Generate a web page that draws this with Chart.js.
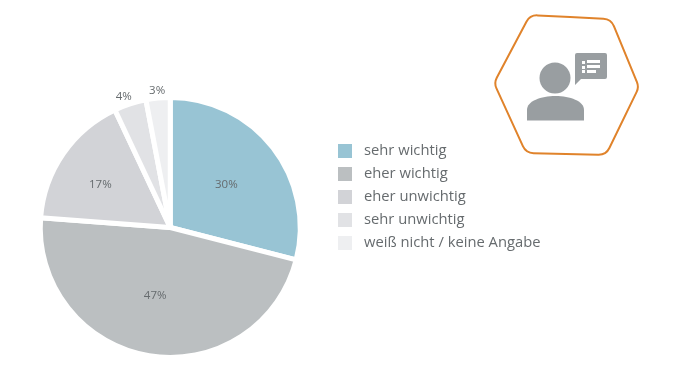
<!DOCTYPE html>
<html lang="de">

<head>
    <meta charset="UTF-8">
    <title>Pie Chart</title>
    <style>
        html, body { margin: 0; padding: 0; background: #fff; }
        #wrap { position: relative; width: 674px; height: 384px; overflow: hidden; }
        #ctx { position: absolute; left: 0; top: 0; }
        #legend { position: absolute; left: 338px; top: 138px; margin: 0; padding: 0; list-style: none;
            font: 14.75px "Open Sans", sans-serif; color: #666b6e; }
        #legend li { height: 23px; line-height: 23px; white-space: nowrap; }
        #legend span { display: inline-block; width: 14px; height: 14px; margin-right: 12px; vertical-align: -3px; }
    </style>
</head>

<body>
    <div id="wrap">
        <canvas id="ctx" width="674" height="384"></canvas>
        <ul id="legend"></ul>
    </div>

    <script src="https://cdn.jsdelivr.net/npm/chart.js"></script>
    <script>
        const categories = ['sehr wichtig', 'eher wichtig', 'eher unwichtig', 'sehr unwichtig', 'weiß nicht / keine Angabe'];
        // slice sizes, the printed labels round differently
        const values = [29, 47.2, 16.8, 4, 3];
        const percentLabels = ['30%', '47%', '17%', '4%', '3%'];
        const colors = ['#98c4d4', '#bbbfc1', '#d2d3d7', '#e1e2e5', '#eeeff1'];
        // distance of each label from the centre, as a share of the radius
        const labelRadius = [0.56, 0.53, 0.63, 1.09, 1.08];
        // small pixel nudges for the labels
        const labelNudge = [[-1, 1], [-4, 1], [-3, 3], [-3, 3], [0, 2]];

        // html legend, the native one can't be placed freely
        document.getElementById('legend').innerHTML = categories.map((c, i) =>
            '<li><span style="background:' + colors[i] + '"></span>' + c + '</li>').join('');

        // percent labels, small slices get theirs outside the pie
        const sliceLabels = {
            id: 'sliceLabels',
            afterDatasetsDraw(chart) {
                const c = chart.ctx;
                c.save();
                c.font = '11.5px "Open Sans", sans-serif';
                c.fillStyle = '#666b6e';
                c.textAlign = 'center';
                c.textBaseline = 'middle';
                chart.getDatasetMeta(0).data.forEach((arc, i) => {
                    const p = arc.getProps(['x', 'y', 'startAngle', 'endAngle', 'outerRadius']);
                    const mid = (p.startAngle + p.endAngle) / 2;
                    const r = 129 * labelRadius[i];
                    c.fillText(percentLabels[i], p.x + Math.cos(mid) * r + labelNudge[i][0], p.y + Math.sin(mid) * r + labelNudge[i][1]);
                });
                c.restore();
            }
        };

        // hexagon with the person icon, top right
        const hexIcon = {
            id: 'hexIcon',
            afterDraw(chart) {
                const c = chart.ctx;
                const pts = [[530, 15], [611, 19], [639, 87], [606, 155], [526, 153], [494, 83]];
                c.save();
                c.beginPath();
                c.moveTo(570, 17);
                for (let i = 1; i <= pts.length; i++) {
                    const a = pts[i % pts.length], b = pts[(i + 1) % pts.length];
                    c.arcTo(a[0], a[1], b[0], b[1], 12);
                }
                c.closePath();
                c.strokeStyle = '#e0832b';
                c.lineWidth = 2;
                c.stroke();

                c.fillStyle = '#999ea1';
                c.beginPath();
                c.arc(555, 78, 15.5, 0, Math.PI * 2);
                c.fill();
                c.fill(new Path2D('M527 120.5V110C527 101 541 96 555.5 96S584 101 584 110V120.5Z'));
                c.fill(new Path2D('M577 53H605Q607 53 607 55V77Q607 79 605 79H581L575 85V55Q575 53 577 53Z'));

                c.fillStyle = '#fff';
                [[582, 61], [582, 66], [582, 70]].forEach(d => c.fillRect(d[0], d[1], 3, 3));
                c.fillRect(587, 60, 13, 3);
                c.fillRect(587, 65, 13, 3);
                c.fillRect(587, 70, 9, 3);
                c.restore();
            }
        };

        new Chart(document.getElementById('ctx').getContext('2d'), {
            type: 'pie',
            data: {
                labels: categories,
                datasets: [{
                    data: values,
                    backgroundColor: colors,
                    borderColor: '#fff',
                    borderWidth: 5
                }]
            },
            options: {
                responsive: false,
                animation: false,
                radius: 130,
                layout: { padding: { left: 0, right: 333.5, top: 71, bottom: 0 } },
                plugins: { legend: { display: false }, tooltip: { enabled: false } }
            },
            plugins: [sliceLabels, hexIcon]
        });
    </script>
</body>

</html>
